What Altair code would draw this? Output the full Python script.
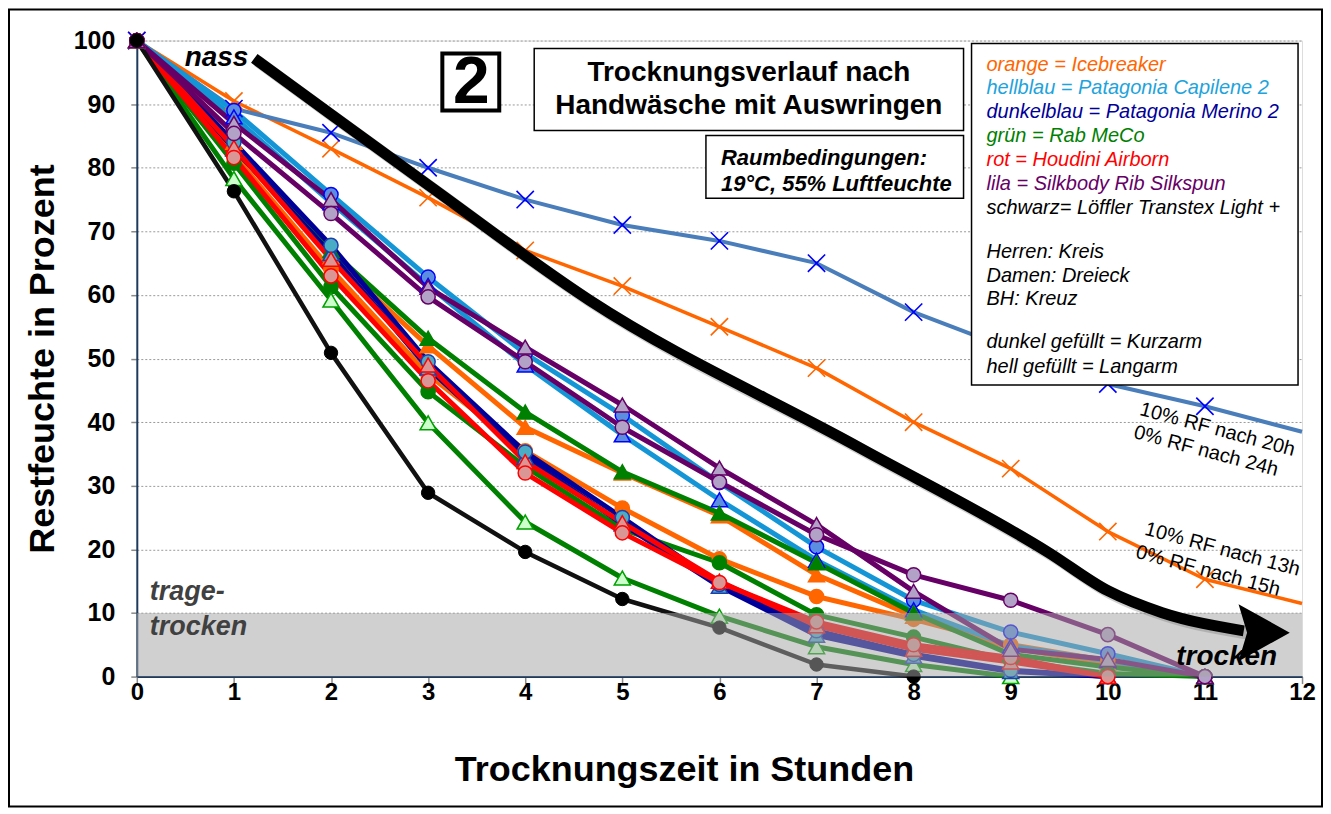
import altair as alt
import pandas as pd

# ---------------- data ----------------
hours = list(range(13))

ice_bh      = [100, 90.5, 83.0, 75.3, 67.0, 61.4, 55.0, 48.5, 40.0, 32.7, 22.8, 15.3, 11.5]
cap_bh      = [100, 89.3, 85.5, 80.0, 75.0, 71.0, 68.5, 65.0, 57.3, 51.5, 46.0, 42.5, 38.5]
ice_herren  = [100, 82.0, 64.0, 47.5, 35.5, 26.5, 18.5, 12.6, 9.0, 5.0, 2.5, 0.0]
ice_damen   = [100, 84.0, 66.0, 52.0, 39.2, 32.0, 25.3, 16.0, 9.5, 4.5, 2.0, 0.0]
cap_herren  = [100, 89.0, 75.8, 62.8, 50.8, 41.1, 30.5, 20.4, 12.0, 7.0, 3.6, 0.0]
cap_damen   = [100, 88.0, 74.5, 61.5, 49.0, 38.0, 27.8, 18.3, 10.5, 4.8, 2.5, 0.0]
mer_herren  = [100, 84.0, 67.8, 49.5, 35.3, 25.0, 14.5, 7.2, 3.5, 1.0, 0.0]
mer_damen   = [100, 83.0, 66.5, 48.5, 34.5, 24.0, 14.2, 6.5, 3.2, 0.8, 0.0]
mec_damen_k = [100, 83.0, 67.0, 53.2, 41.6, 32.2, 25.7, 17.9, 10.0, 3.5, 1.5, 0.0]
mec_damen_l = [100, 78.3, 59.2, 39.9, 24.3, 15.5, 9.5, 4.7, 1.9, 0.0]
mec_herren  = [100, 80.7, 61.3, 44.8, 33.0, 23.2, 17.9, 9.7, 6.2, 2.5, 0.5, 0.0]
hou_herren  = [100, 81.6, 63.0, 46.5, 32.0, 22.6, 14.8, 8.6, 5.0, 3.0, 0.0]
hou_damen   = [100, 83.2, 65.6, 49.0, 33.8, 24.2, 15.0, 8.0, 4.3, 2.3, 0.0]
silk_damen  = [100, 87.0, 75.0, 61.2, 51.8, 42.7, 32.8, 23.9, 13.4, 4.3, 2.7, 0.0]
silk_herren = [100, 85.4, 72.8, 59.7, 49.5, 39.2, 30.6, 22.3, 16.0, 12.0, 6.6, 0.0]
loeffler    = [100, 76.3, 50.9, 28.9, 19.6, 12.2, 7.7, 1.9, 0.0]

# decorative arrow "nass" -> "trocken" (data coordinates)
arrow_h = [1.21, 1.99, 3.01, 4.66, 7.43, 9.39, 10.0, 10.56, 11.40]
arrow_v = [97.2, 88.5, 77.2, 59.2, 36.1, 19.5, 13.5, 10.05, 7.2]
arrow_tip = (11.61, 6.9)

legend_lines = ["orange = Icebreaker", "hellblau = Patagonia Capilene 2",
                "dunkelblau = Patagonia Merino 2", "grün = Rab MeCo",
                "rot = Houdini Airborn", "lila = Silkbody Rib Silkspun",
                "schwarz= Löffler Transtex Light +", "Herren: Kreis",
                "Damen: Dreieck", "BH: Kreuz", "dunkel gefüllt = Kurzarm",
                "hell gefüllt = Langarm"]
legend_colors = ["#ff6600", "#1ea3dc", "#000099", "#008000", "#ff0000",
                 "#660066", "black", "black", "black", "black", "black", "black"]

# ---------------- styles ----------------
XSHAPE = "M -1 -1 L 1 1 M 1 -1 L -1 1"
ORANGE, LBLUE, NAVY, GREEN, RED, PURPLE = "#ff6600", "#1496d6", "#000099", "#008000", "#ff0000", "#660066"
series = [
    ("ice_bh", ice_bh, ORANGE, 3.5, XSHAPE, "transparent", ORANGE, 300, 1.6),
    ("cap_bh", cap_bh, "#4a7ebb", 4.0, XSHAPE, "transparent", "#0000ff", 300, 1.6),
    ("ice_herren", ice_herren, ORANGE, 5, "circle", ORANGE, ORANGE, 200, 1.5),
    ("ice_damen", ice_damen, ORANGE, 5, "triangle-up", ORANGE, ORANGE, 260, 1.5),
    ("cap_herren", cap_herren, LBLUE, 5, "circle", "#5b8ee0", "#0000ff", 200, 1.5),
    ("cap_damen", cap_damen, LBLUE, 5, "triangle-up", "#5b8ee0", "#0000ff", 260, 1.5),
    ("mec_damen_k", mec_damen_k, GREEN, 5, "triangle-up", GREEN, GREEN, 260, 1.5),
    ("mec_herren", mec_herren, GREEN, 5, "circle", GREEN, GREEN, 200, 1.5),
    ("mec_damen_l", mec_damen_l, GREEN, 5, "triangle-up", "#ccffcc", "#00a000", 260, 1.5),
    ("mer_damen", mer_damen, NAVY, 5, "triangle-up", "#4bacc6", "#1f3fae", 260, 1.5),
    ("mer_herren", mer_herren, NAVY, 5, "circle", "#4bacc6", "#1f3fae", 200, 1.5),
    ("hou_damen", hou_damen, RED, 5, "triangle-up", "#da9694", RED, 260, 1.5),
    ("hou_herren", hou_herren, RED, 5, "circle", "#da9694", RED, 200, 1.5),
    ("silk_damen", silk_damen, PURPLE, 5, "triangle-up", "#b3a2c7", PURPLE, 260, 1.5),
    ("silk_herren", silk_herren, PURPLE, 5, "circle", "#b3a2c7", PURPLE, 200, 1.5),
    ("loeffler", loeffler, "#111111", 4.5, "circle", "black", "black", 180, 1.0),
]

rows = []
for k, (name, vals, lc, lw, shp, fill, stroke, sz, sw) in enumerate(series):
    for h, v in zip(hours, vals):
        rows.append(dict(series=name, k=k, hour=h, value=v, lc=lc, lw=lw,
                         shape=shp, fill=fill, stroke=stroke, sz=sz, sw=sw))
df = pd.DataFrame(rows)

FONT = "Liberation Sans"

x_enc = alt.X("hour:Q",
              scale=alt.Scale(domain=[0, 12], nice=False, zero=False),
              axis=alt.Axis(values=hours, format="d", title="Trocknungszeit in Stunden",
                            labelFont=FONT, labelFontSize=24, labelFontWeight="bold",
                            labelColor="black", labelPadding=-3, labelFlush=False,
                            labelOverlap=False, tickSize=7, tickColor="#8a8a8a",
                            tickWidth=1.5, grid=False, domainColor="#1e3a5c",
                            domainWidth=2, titleFont=FONT, titleFontSize=36,
                            titleFontWeight="bold", titleColor="black", titlePadding=48,
                            titleX=548, titleAlign="center"))
y_enc = alt.Y("value:Q",
              scale=alt.Scale(domain=[0, 100], nice=False),
              axis=alt.Axis(values=list(range(0, 101, 10)), title="Restfeuchte in Prozent",
                            labelFont=FONT, labelFontSize=25, labelFontWeight="bold",
                            labelColor="black", labelPadding=16, labelOverlap=False,
                            tickSize=6, tickColor="#8a8a8a", tickWidth=1.5,
                            grid=True, gridColor="#9a9a9a", gridDash=[2, 2], gridWidth=1,
                            domainColor="#1e3a5c", domainWidth=2, titleFont=FONT,
                            titleFontSize=36, titleFontWeight="bold", titleColor="black",
                            titlePadding=12))

lines = alt.Chart(df).mark_line(strokeJoin="round").encode(
    x=x_enc, y=y_enc,
    color=alt.Color("lc:N", scale=None),
    strokeWidth=alt.StrokeWidth("lw:Q", scale=None),
    detail="series:N",
    order="hour:Q",
)

markers = alt.Chart(df).transform_filter("datum.hour <= 11").mark_point(opacity=1).encode(
    x=x_enc, y=y_enc,
    shape=alt.Shape("shape:N", scale=None),
    fill=alt.Fill("fill:N", scale=None),
    stroke=alt.Stroke("stroke:N", scale=None),
    size=alt.Size("sz:Q", scale=None),
    strokeWidth=alt.StrokeWidth("sw:Q", scale=None),
    order="k:Q",
)

one = pd.DataFrame({"a": [0]})

band = alt.Chart(one).mark_rect(color="#a4a4a4", opacity=0.52).encode(
    x=alt.datum(0), x2=alt.datum(12), y=alt.datum(0), y2=alt.datum(10))

arrow_df = pd.DataFrame({"hour": arrow_h, "value": arrow_v})
arrow_shadow = alt.Chart(arrow_df).transform_calculate(
    hour="datum.hour + 0.035", value="datum.value - 0.45"
).mark_line(color="#777777", opacity=0.35, strokeWidth=12, interpolate="monotone").encode(
    x="hour:Q", y="value:Q")
arrow = alt.Chart(arrow_df).mark_line(color="black", strokeWidth=11, interpolate="monotone").encode(
    x="hour:Q", y="value:Q")
head = alt.Chart(pd.DataFrame({"hour": [arrow_tip[0]], "value": [arrow_tip[1]]})).mark_point(
    shape="M -0.9 -1 L 0.9 0 L -0.9 1 L -0.6 0 Z", size=3249, filled=True,
    color="black", opacity=1).encode(x="hour:Q", y="value:Q")


def txt(s, x, y, size, color="black", weight="normal", style="normal",
        align="left", angle=0):
    return alt.Chart(pd.DataFrame({"t": [s]})).mark_text(
        font=FONT, fontSize=size, fontWeight=weight, fontStyle=style,
        align=align, baseline="middle", angle=angle, color=color
    ).encode(x=alt.value(x), y=alt.value(y), text="t:N")


def box(x1, y1, x2, y2, sw=1.5, fill="white"):
    return alt.Chart(one).mark_rect(fill=fill, stroke="black", strokeWidth=sw).encode(
        x=alt.value(x1), x2=alt.value(x2), y=alt.value(y1), y2=alt.value(y2))


layers = [lines, markers, band,
          txt("trage-", 13, 552, 27, color="#404040", weight="bold", style="italic"),
          txt("trocken", 13, 587, 27, color="#404040", weight="bold", style="italic"),
          arrow_shadow, arrow, head,
          txt("nass", 48, 17, 28, weight="bold", style="italic"),
          txt("trocken", 1041, 617, 28, weight="bold", style="italic"),
          box(306, 13, 363, 70, sw=4),
          txt("2", 335, 43, 66, weight="bold", align="center"),
          box(398, 8, 828, 90),
          txt("Trocknungsverlauf nach", 613, 33, 28, weight="bold", align="center"),
          txt("Handwäsche mit Auswringen", 613, 66, 28, weight="bold", align="center"),
          box(570, 95, 828, 158),
          txt("Raumbedingungen:", 585, 118, 22, weight="bold", style="italic"),
          txt("19°C, 55% Luftfeuchte", 585, 144, 22, weight="bold", style="italic"),
          box(836, 3, 1163, 345),
          ]

legend_y = [24, 48, 72, 96, 120, 144, 168, 212, 236, 259, 302, 327]
for s, c, yy in zip(legend_lines, legend_colors, legend_y):
    layers.append(txt(s, 851, yy, 20, color=c, style="italic"))

layers += [
    txt("10% RF nach 20h", 1005, 369, 20, angle=15),
    txt("0% RF nach 24h", 999, 392, 20, angle=15),
    txt("10% RF nach 13h", 1010, 489, 20, angle=15),
    txt("0% RF nach 15h", 1001, 512, 20, angle=15),
]

frame = alt.Chart(one).mark_rect(fillOpacity=0, stroke="black", strokeWidth=2).encode(
    x=alt.value(-128), x2=alt.value(1187), y=alt.value(-31), y2=alt.value(767))
layers.append(frame)

chart = alt.layer(*layers).properties(
    width=1167, height=637,
    padding={"left": 129, "top": 32, "right": 21, "bottom": 131},
    autosize=alt.AutoSizeParams(type="none"),
).configure_view(stroke="#1e3a5c", strokeWidth=2).configure(background="white")

chart.save("out.html", embed_options={"renderer": "svg", "actions": False})
